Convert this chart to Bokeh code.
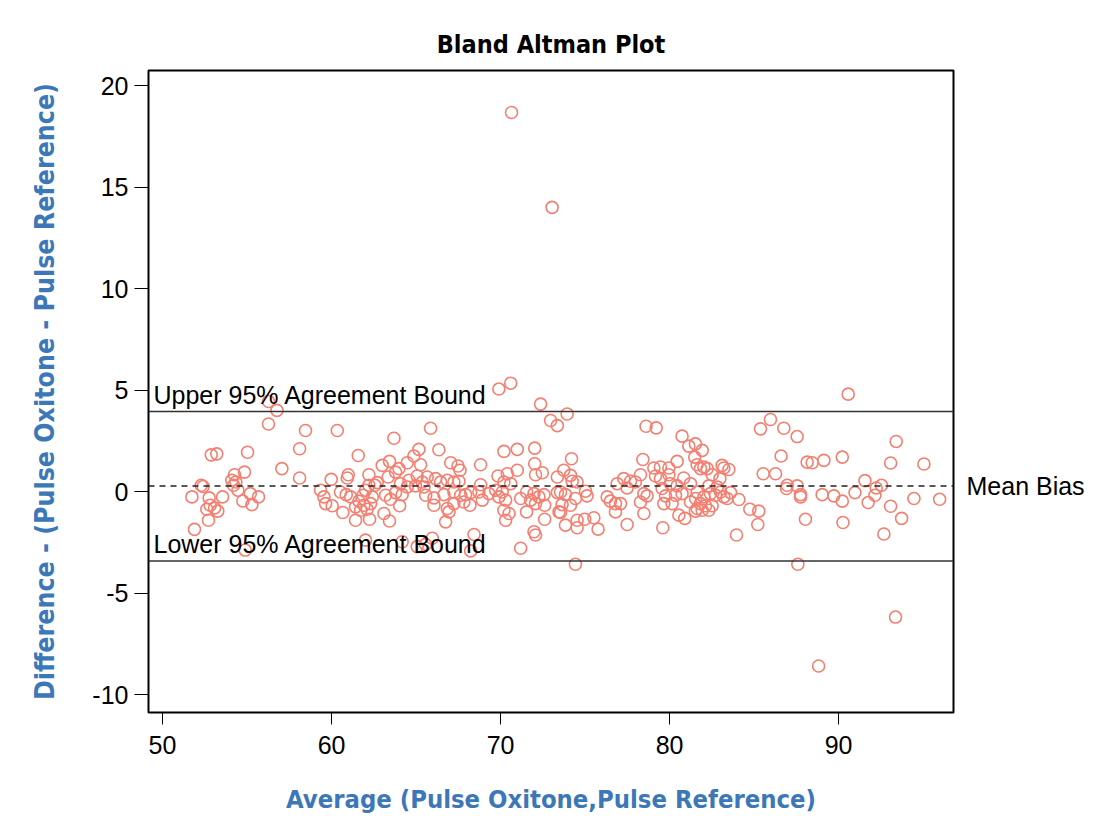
from bokeh.plotting import figure
from bokeh.models import Span, Label, Range1d, FixedTicker, LinearAxis
from bokeh.embed import file_html
from bokeh.resources import INLINE

# ---- data ----
average = [
    70.65, 73.05, 93.37, 88.82,
    56.27, 56.77, 56.27, 52.88, 53.21, 55.03, 57.06, 54.85, 54.26, 54.10, 54.34, 52.29, 52.40, 54.20,
    54.46, 51.74, 52.76, 53.55, 55.19, 55.68, 54.75, 55.29, 52.82, 52.62, 53.08, 53.27, 52.72, 51.89, 54.89,
    58.46, 60.34, 58.11, 58.11, 61.58, 63.69, 65.17, 63.00, 63.43, 63.99, 64.48, 64.87, 65.27, 60.99,
    60.93, 59.98, 62.21, 62.70, 63.35, 63.79, 64.08, 64.58, 65.07, 65.37, 59.35, 59.55, 59.65, 60.04,
    60.53, 60.87, 61.13, 62.01, 62.21, 62.57, 61.86, 62.41, 61.62, 61.42, 61.92, 62.31, 61.72, 62.11,
    60.67, 61.42, 62.25, 63.10, 63.43, 63.20, 63.49, 63.79, 64.18, 64.03, 64.48, 64.97, 65.47, 62.01,
    64.18, 65.07, 65.56,
    69.90, 70.60, 72.37, 72.96, 73.36, 65.86, 66.35, 70.20, 70.99, 72.02, 72.02, 67.05, 67.48, 67.60,
    68.82, 65.66, 66.16, 66.45, 66.85, 67.24, 67.54, 69.85, 70.40, 70.20, 70.99, 72.07, 72.47, 73.36,
    68.82, 70.60, 65.57, 66.06, 66.06, 66.65, 67.24, 67.64, 67.24, 66.85, 66.75, 66.95, 67.83, 68.19,
    67.93, 68.23, 68.72, 68.92, 69.31, 69.71, 69.90, 70.10, 70.30, 70.20, 70.50, 70.30, 71.19, 71.54,
    71.98, 71.78, 72.07, 72.27, 72.57, 72.61, 71.54, 72.61, 73.36, 73.46, 71.98, 72.07, 68.43, 68.23,
    71.19, 65.96,
    73.94, 78.61, 79.21, 74.20, 73.74, 74.14, 74.24, 74.53, 73.55, 73.84, 75.03, 75.12, 73.64, 74.14,
    74.43, 73.55, 74.53, 74.98, 75.52, 73.84, 74.53, 75.77, 74.43, 76.31, 76.50, 76.80, 77.10, 76.80,
    76.90, 77.29, 77.69, 77.98, 77.49, 78.28, 78.42, 78.28, 78.48, 78.67, 78.48, 77.49, 79.07, 79.46,
    79.96, 79.17, 79.46, 79.96, 80.45, 79.56, 79.76, 79.66, 79.60, 80.05, 80.45, 80.84, 80.35, 80.15,
    80.74, 80.55, 80.90, 81.24, 81.24, 80.74, 81.14, 81.53, 81.49, 81.53,
    85.38, 85.97, 86.76, 87.55, 81.93, 81.63, 82.03, 81.83, 82.23, 83.11, 83.21, 83.51, 82.52, 82.98,
    86.60, 85.54, 86.27, 88.14, 88.44, 89.13, 86.96, 86.92, 87.55, 87.75, 87.75, 89.03, 82.32, 82.82,
    83.02, 83.61, 81.63, 81.54, 82.03, 82.42, 82.72, 83.21, 84.10, 83.41, 81.83, 81.63, 81.93, 82.32,
    82.52, 82.13, 84.75, 85.28, 85.22, 83.96, 88.04, 87.59,
    90.57, 93.41, 90.22, 93.08, 95.05, 91.56, 92.54, 92.23, 92.15, 90.97, 89.72, 90.22, 91.75, 93.08,
    94.46, 95.98, 93.73, 90.26, 92.68,
]
difference = [
    18.67, 14.00, -6.18, -8.59,
    4.44, 4.00, 3.33, 1.81, 1.86, 1.94, 1.13, 0.96, 0.83, 0.56, 0.47, 0.31, 0.25, 0.31,
    0.07, -0.26, -0.31, -0.26, -0.10, -0.26, -0.46, -0.64, -0.67, -0.87, -0.80, -0.96, -1.41, -1.86, -2.88,
    3.01, 3.01, 2.11, 0.67, 1.78, 2.63, 2.08, 1.29, 1.49, 1.13, 1.42, 1.75, 1.32, 0.83,
    0.67, 0.60, 0.83, 0.44, 0.72, 0.96, 0.39, 0.56, 0.77, 0.47, 0.07, -0.26, -0.59, -0.70,
    -0.02, -0.15, -0.26, 0.07, 0.31, 0.31, -0.18, -0.26, -0.47, -0.75, -0.67, -0.59, -0.92, -0.87,
    -1.03, -1.41, -1.36, -1.08, -1.45, -0.18, -0.38, -0.05, -0.15, -0.70, 0.23, 0.28, 0.23, -2.39,
    -2.47, -2.71, -2.60,
    5.05, 5.34, 4.31, 3.50, 3.25, 3.12, 2.06, 1.98, 2.08, 2.14, 1.37, 1.42, 1.26, 1.05,
    1.32, 0.72, 0.64, 0.47, 0.56, 0.47, 0.51, 0.77, 0.88, 0.47, 1.05, 0.83, 0.93, 0.72,
    0.34, 0.39, -0.18, -0.31, -0.67, -0.15, -0.02, -0.18, -0.59, -0.83, -1.49, -1.00, -0.51, -0.67,
    -0.15, -0.05, -0.02, -0.42, -0.10, 0.07, -0.26, -0.02, -0.42, -0.92, -1.08, -1.41, -0.34, -0.02,
    -0.10, -0.42, -0.59, -0.26, -0.15, -0.67, -1.00, -1.36, -0.05, -1.00, -1.98, -2.14, -2.11, -2.92,
    -2.79, -2.30,
    3.82, 3.22, 3.14, 1.62, 1.05, 0.80, 0.51, 0.47, -0.02, -0.15, 0.02, -0.21, -0.64, -0.67,
    -0.34, -1.03, -1.41, -1.36, -1.29, -1.65, -1.78, -1.85, -3.58, -0.26, -0.47, -0.59, -0.59, -1.00,
    0.39, 0.64, 0.51, 0.47, 0.18, 0.83, 1.58, -0.51, -0.10, -0.21, -1.08, -1.62, 1.16, 1.21,
    1.16, 0.77, 0.64, 0.83, 1.49, 0.15, -0.21, -0.59, -1.78, 0.39, 0.28, 0.67, -0.18, -0.59,
    -0.10, -1.16, -1.32, -0.51, 0.39, 2.73, 2.24, 2.35, 1.70, -0.96,
    3.09, 3.55, 3.12, 2.71, 2.03, 1.32, 1.21, 1.13, 1.13, 1.29, 1.16, 1.09, 0.83, 0.64,
    1.75, 0.88, 0.88, 1.45, 1.42, 1.54, 0.31, 0.15, 0.28, -0.15, -0.26, -0.15, 0.28, 0.23,
    -0.02, -0.05, -0.02, -0.34, -0.26, -0.10, -0.18, -0.26, -0.39, -0.34, -0.59, -0.83, -0.92, -0.92,
    -0.70, -0.70, -0.87, -0.96, -1.62, -2.14, -1.36, -3.58,
    4.80, 2.47, 1.70, 1.41, 1.36, 0.54, 0.31, 0.18, -0.18, -0.05, -0.21, -0.47, -0.54, -0.72,
    -0.34, -0.38, -1.32, -1.52, -2.09,
]
upper_bound = 3.94
mean_bias = 0.28
lower_bound = -3.42
x_ticks = [50, 60, 70, 80, 90]
y_ticks = [-10, -5, 0, 5, 10, 15, 20]
y_tick_labels = ["-10", "-5", "0", "5", "10", "15", "20"]

title_text = "Bland Altman Plot"
x_label = "Average (Pulse Oxitone,Pulse Reference)"
y_label = "Difference - (Pulse Oxitone - Pulse Reference)"
upper_text = "Upper 95% Agreement Bound"
lower_text = "Lower 95% Agreement Bound"
mean_text = "Mean Bias"

BOLD_FONT = "DejaVu Sans Condensed, DejaVu Sans"
TEXT_FONT = "Liberation Sans"
BLUE = "#3c78b8"
POINT = "#f47f70"

p = figure(
    width=1087, height=816,
    output_backend="svg", toolbar_location=None,
    x_range=Range1d(49.17, 96.8), y_range=Range1d(-10.88, 20.74),
    min_border_left=148, min_border_right=134, min_border_top=70, min_border_bottom=101,
    title=title_text,
)

p.title.align = "center"
p.title.text_font = BOLD_FONT
p.title.text_font_size = "25px"
p.title.text_font_style = "bold"
p.title.text_color = "black"
p.title.standoff = 23

p.xgrid.visible = False
p.ygrid.visible = False
p.outline_line_color = "black"
p.outline_line_width = 2

for ax, ticks in ((p.xaxis, x_ticks), (p.yaxis, y_ticks)):
    ax.ticker = FixedTicker(ticks=ticks)
    ax.minor_tick_line_color = None
    ax.major_tick_in = 0
    ax.major_tick_line_color = "black"
    ax.axis_line_color = "black"
    ax.major_label_text_font = TEXT_FONT
    ax.major_label_text_font_size = "25px"
    ax.major_label_text_color = "black"
    ax.axis_label_text_font = BOLD_FONT
    ax.axis_label_text_font_style = "bold"
    ax.axis_label_text_color = BLUE

p.yaxis.major_label_overrides = {t: s for t, s in zip(y_ticks, y_tick_labels)}
p.xaxis.axis_label = x_label
p.yaxis.axis_label = y_label
p.xaxis.axis_label_text_font_size = "25.4px"
p.yaxis.axis_label_text_font_size = "26.5px"
p.xaxis.major_tick_out = 12
p.yaxis.major_tick_out = 14
p.xaxis.major_label_standoff = 11
p.yaxis.major_label_standoff = 6
p.xaxis.axis_label_standoff = 27
p.yaxis.axis_label_standoff = 29

# right-hand axis carrying only the "Mean Bias" label
right = LinearAxis(ticker=FixedTicker(ticks=[mean_bias]),
                   major_label_overrides={mean_bias: mean_text})
right.axis_line_color = None
right.major_tick_line_color = None
right.minor_tick_line_color = None
right.major_tick_in = 0
right.major_tick_out = 0
right.major_label_standoff = 13
right.major_label_text_font = TEXT_FONT
right.major_label_text_font_size = "25px"
right.major_label_text_color = "black"
p.add_layout(right, "right")

p.scatter(average, difference, marker="circle", size=12, fill_color=None,
          line_color=POINT, line_width=1.6)

p.add_layout(Span(location=upper_bound, dimension="width", line_color="#333333", line_width=1.5))
p.add_layout(Span(location=lower_bound, dimension="width", line_color="#333333", line_width=1.5))
p.add_layout(Span(location=mean_bias, dimension="width", line_color="#222222", line_width=1.5,
                  line_dash="6 5"))

p.add_layout(Label(x=49.17, y=upper_bound, x_offset=5, y_offset=17, text=upper_text,
                   text_font=TEXT_FONT, text_font_size="25px", text_baseline="alphabetic",
                   text_color="black"))
p.add_layout(Label(x=49.17, y=lower_bound, x_offset=5, y_offset=17, text=lower_text,
                   text_font=TEXT_FONT, text_font_size="25px", text_baseline="alphabetic",
                   text_color="black"))

open("out.html", "w").write(file_html(p, INLINE))
